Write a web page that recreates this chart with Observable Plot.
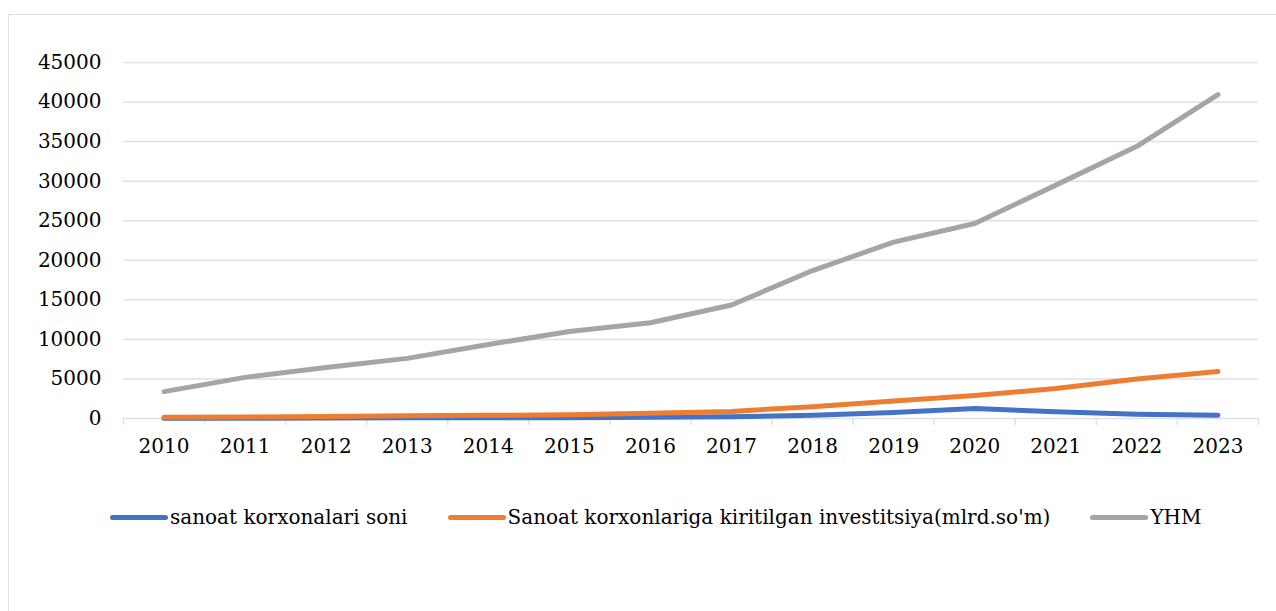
<!DOCTYPE html>
<html>
<head>
<meta charset="utf-8">
<script src="https://cdn.jsdelivr.net/npm/d3@7"></script>
<script src="https://cdn.jsdelivr.net/npm/@observablehq/plot@0.6"></script>
<style>
  html, body { margin: 0; padding: 0; background: #fff; width: 1276px; height: 611px; overflow: hidden; }
  #frame { position: absolute; left: 8px; top: 14px; width: 1290px; height: 640px; border: 1px solid #dde1e6; box-sizing: border-box; }
  #chart { position: absolute; left: 0; top: 0; }
  #legend { position: absolute; left: 110px; top: 505px; display: flex; align-items: center; font-family: "DejaVu Serif", serif; font-size: 20px; color: #000; white-space: nowrap; }
  .item { display: flex; align-items: center; margin-right: 40px; }
  .sw { width: 58px; height: 5px; border-radius: 3px; margin-right: 2px; }
</style>
</head>
<body>
<div id="frame"></div>
<div id="chart"></div>
<div id="legend"></div>
<script>
const years = [2010, 2011, 2012, 2013, 2014, 2015, 2016, 2017, 2018, 2019, 2020, 2021, 2022, 2023];
const korxonalar = [30, 40, 60, 80, 90, 110, 150, 230, 400, 750, 1250, 850, 550, 420];
const investitsiya = [150, 180, 250, 350, 400, 480, 650, 900, 1500, 2200, 2900, 3800, 5000, 5950];
const yhm = [3400, 5200, 6450, 7600, 9350, 11000, 12100, 14350, 18700, 22300, 24650, 29500, 34400, 40950];
const seriesNames = ["sanoat korxonalari soni", "Sanoat korxonlariga kiritilgan investitsiya(mlrd.so'm)", "YHM"];
const colors = ["#4472C4", "#ED7D31", "#A5A5A5"];
const yTicks = [0, 5000, 10000, 15000, 20000, 25000, 30000, 35000, 40000, 45000];

const seriesValues = [korxonalar, investitsiya, yhm];
const rows = seriesValues.flatMap((vals, i) => years.map((yr, j) => ({year: yr, value: vals[j], series: seriesNames[i]})));
const boundaries = [years[0] - 0.5, ...years.map(y => y + 0.5)];

const font = '"DejaVu Serif", serif';
const gridColor = "#dde1e6";
const chart = Plot.plot({
  width: 1276,
  height: 490,
  marginLeft: 123,
  marginRight: 18,
  marginTop: 62,
  marginBottom: 72,
  style: {fontFamily: font, fontSize: "20px", color: "#000", background: "transparent"},
  x: {domain: [years[0] - 0.5, years[years.length - 1] + 0.5], label: null},
  y: {domain: [0, 45000], label: null},
  color: {domain: seriesNames, range: colors},
  marks: [
    Plot.ruleY(yTicks, {stroke: gridColor, strokeWidth: 1.5}),
    Plot.ruleX(boundaries, {x: d => d, y1: 0, y2: 0, stroke: gridColor, strokeWidth: 1.5, insetBottom: -7}),
    Plot.axisY({ticks: yTicks, tickFormat: d => String(d), tickSize: 0, tickPadding: 22, fontSize: 20}),
    Plot.axisX({ticks: years, tickFormat: d => String(d), tickSize: 0, tickPadding: 20, fontSize: 20}),
    Plot.line(rows, {x: "year", y: "value", z: "series", stroke: "series", strokeWidth: 5, curve: "linear", strokeLinecap: "round", strokeLinejoin: "round"})
  ]
});
document.getElementById("chart").appendChild(chart);

const legend = document.getElementById("legend");
seriesNames.forEach((name, i) => {
  const item = document.createElement("div");
  item.className = "item";
  const sw = document.createElement("div");
  sw.className = "sw";
  sw.style.background = colors[i];
  const t = document.createElement("span");
  t.textContent = name;
  item.appendChild(sw);
  item.appendChild(t);
  legend.appendChild(item);
});
</script>
</body>
</html>
